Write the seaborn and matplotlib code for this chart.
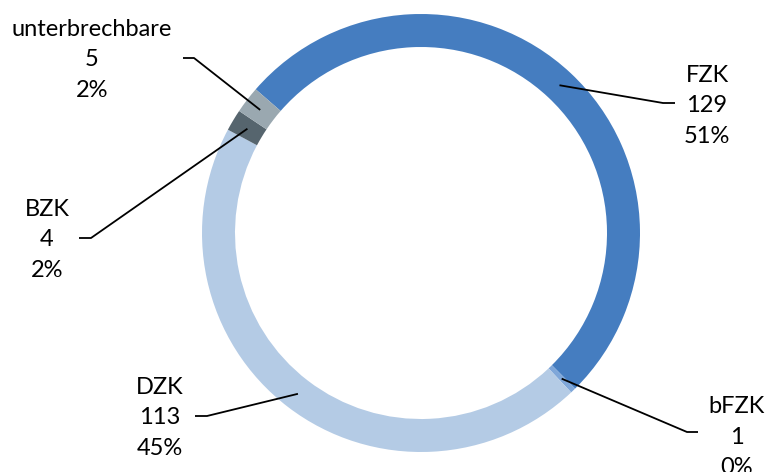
import numpy as np
import matplotlib
matplotlib.use("Agg")
import matplotlib.pyplot as plt
import seaborn as sns

# data
categories = ["FZK", "bFZK", "DZK", "BZK", "unterbrechbare"]
counts = [129, 1, 113, 4, 5]
colors = ["#457DC0", "#7FA7D9", "#B4CBE5", "#56656E", "#9AA8B0"]

# label layout in pixel coords (text centre of middle line, leader bend, leader end)
text_pos = [(707, 106), (737, 437), (160, 418), (47, 240), (92, 60)]
bend_pos = [(663, 103), (687, 432), (207, 416), (91, 238), (194, 58)]
end_pos = [(675, 103), (698, 432), (195, 416), (79, 238), (183, 58)]

sns.set_theme(style="white")
plt.rcParams["font.family"] = ["Lato", "DejaVu Sans"]

W, H = 770, 472
fig = plt.figure(figsize=(W / 100, H / 100), dpi=100)
ax = fig.add_axes([0, 0, 1, 1])

cx, cy = 421, H - 233
r_out, ring = 219, 33
wedges, _ = ax.pie(counts, colors=colors, startangle=139, counterclock=False,
                   radius=r_out, center=(cx, cy),
                   wedgeprops=dict(width=ring, edgecolor="none", linewidth=0))

ax.set_xlim(0, W)
ax.set_ylim(0, H)
ax.set_aspect("equal")
ax.axis("off")

total = sum(counts)
r_mid = r_out - ring / 2
for w, name, n, tp, bp, ep in zip(wedges, categories, counts, text_pos, bend_pos, end_pos):
    ang = np.deg2rad((w.theta1 + w.theta2) / 2)
    sx, sy = cx + r_mid * np.cos(ang), cy + r_mid * np.sin(ang)
    ax.plot([sx, bp[0], ep[0]], [sy, H - bp[1], H - ep[1]], color="black", lw=1.3,
            solid_capstyle="butt")
    pct = n / total * 100
    ax.text(tp[0], H - tp[1], f"{name}\n{n}\n{pct:.0f}%", ha="center", va="center",
            fontsize=17, linespacing=1.57, color="black")

fig.savefig("out.png", dpi=100)
